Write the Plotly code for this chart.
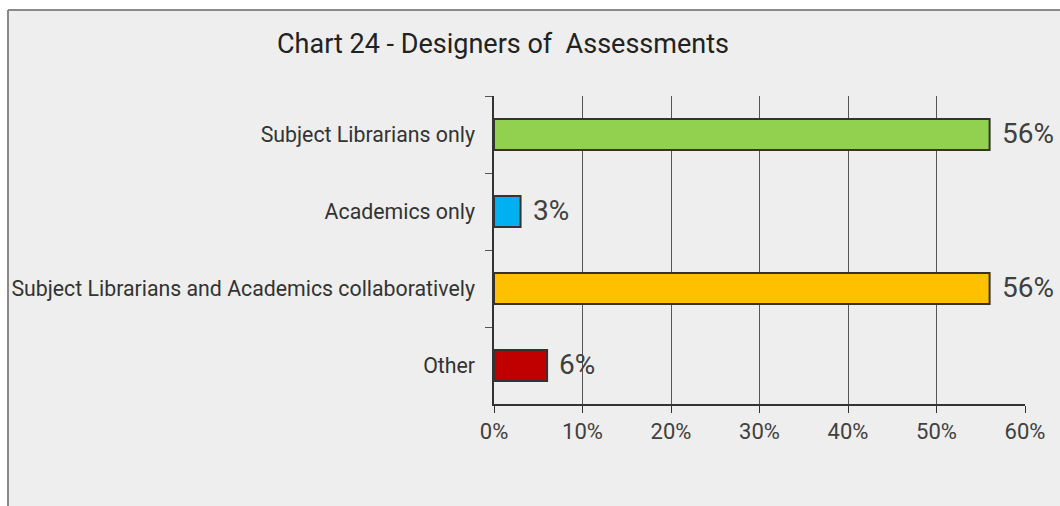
import plotly.graph_objects as go

# Survey responses: who designs the assessments
categories = [
    "Subject Librarians only",
    "Academics only",
    "Subject Librarians and Academics collaboratively",
    "Other",
]
percentages = [56, 3, 56, 6]
bar_colors = ["#92D050", "#00B0F0", "#FFC000", "#C00000"]
x_ticks = [0, 10, 20, 30, 40, 50, 60]
x_tick_labels = ["0%", "10%", "20%", "30%", "40%", "50%", "60%"]

W, H = 1060, 506
M_L, M_R, M_T, M_B = 494, 35, 96, 102
PW, PH = W - M_L - M_R, H - M_T - M_B


def px_x(x):
    return (x - M_L) / PW


def px_y(y):
    return (H - M_B - y) / PH


FONT = "Roboto, 'Liberation Sans', Arial, sans-serif"

fig = go.Figure(
    go.Bar(
        x=percentages,
        y=categories,
        orientation="h",
        width=0.4,
        marker=dict(color=bar_colors, line=dict(color="#333333", width=2)),
        hoverinfo="skip",
    )
)

# value labels at the end of each bar
for cat, val in zip(categories, percentages):
    fig.add_annotation(
        x=val, y=cat, xref="x", yref="y",
        text=f"{val}%", showarrow=False,
        xanchor="left", xshift=10, yshift=1,
        font=dict(family=FONT, size=28, color="#404040"),
    )

# chart frame: grey panel with top and left border
fig.add_shape(type="rect", xref="paper", yref="paper",
              x0=px_x(8), x1=px_x(W + 10), y0=px_y(H + 10), y1=px_y(10),
              fillcolor="#EEEEEE", line=dict(width=0), layer="below")
fig.add_shape(type="line", xref="paper", yref="paper",
              x0=px_x(8), x1=px_x(W + 10), y0=px_y(10), y1=px_y(10),
              line=dict(color="#666666", width=1.5))
fig.add_shape(type="line", xref="paper", yref="paper",
              x0=px_x(8), x1=px_x(8), y0=px_y(10), y1=px_y(H + 10),
              line=dict(color="#888888", width=2))

fig.update_layout(
    width=W, height=H,
    margin=dict(l=M_L, r=M_R, t=M_T, b=M_B, pad=0),
    paper_bgcolor="white",
    plot_bgcolor="rgba(0,0,0,0)",
    showlegend=False,
    title=dict(
        text="Chart 24 - Designers of\u00a0 Assessments",
        x=px_x(503), xanchor="center", xref="paper",
        y=1 - 44 / H, yanchor="middle",
        font=dict(family=FONT, size=27, color="#222222"),
    ),
    xaxis=dict(
        range=[0, 60],
        tickvals=x_ticks, ticktext=x_tick_labels,
        showgrid=True, gridcolor="#555555", gridwidth=1,
        showline=True, linecolor="#333333", linewidth=1.5,
        ticks="outside", ticklen=7, tickcolor="#333333",
        tickfont=dict(family=FONT, size=22, color="#404040"),
        zeroline=False, fixedrange=True,
    ),
    yaxis=dict(
        categoryorder="array", categoryarray=categories,
        autorange="reversed",
        showline=True, linecolor="#333333", linewidth=1.5,
        ticks="outside", ticklen=7, tickcolor="#555555",
        tickson="boundaries",
        ticklabelstandoff=13,
        tickfont=dict(family=FONT, size=21.3, color="#333333"),
        showgrid=False, fixedrange=True,
    ),
)

fig.write_html("out.html")
